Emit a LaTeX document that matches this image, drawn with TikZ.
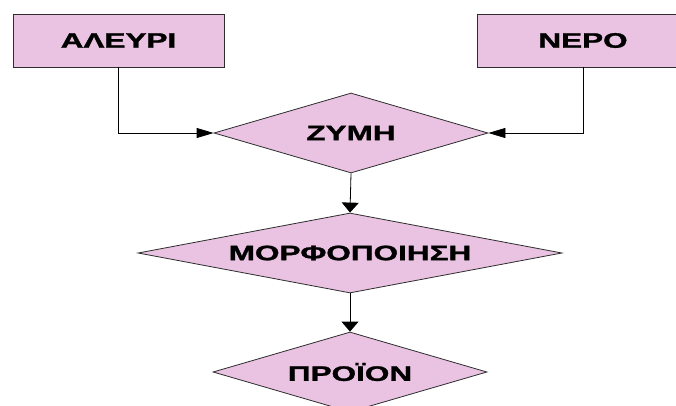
\documentclass[tikz,border=0pt]{standalone}
\usepackage{fontspec}
\setmainfont{Liberation Sans}[BoldFeatures={FakeBold=1.2}]
\usetikzlibrary{shapes.geometric,arrows.meta}
\definecolor{pinkfill}{RGB}{233,195,225}
\definecolor{edgecol}{RGB}{45,45,45}
\newcommand{\lbltext}[1]{\scalebox{1.5}[1]{\fontsize{21}{24}\selectfont\bfseries #1}}
\tikzset{
  inbox/.style={draw=edgecol, line width=0.8pt, fill=pinkfill, rectangle,
    minimum width=211pt, minimum height=53pt, inner sep=0pt},
  diam/.style={draw=edgecol, line width=0.8pt, fill=pinkfill, diamond,
    inner sep=0pt, minimum height=80pt},
  harrow/.style={draw=black, line width=0.8pt, -{Triangle[length=17pt,width=10pt]}},
  varrow/.style={draw=black, line width=0.8pt, -{Triangle[length=10pt,width=17pt]}},
}
\begin{document}
\begin{tikzpicture}[x=1pt,y=-1pt]
\useasboundingbox (0,0) rectangle (676,406);
\begin{scope}
\clip (0,0) rectangle (676,406);
\node[inbox] (aleyri) at (118.5,40.5) {\lbltext{ΑΛΕΥΡΙ}};
\node[inbox] (nero) at (583,40.5) {\lbltext{ΝΕΡΟ}};
\node[diam, minimum width=274pt, label=center:{\lbltext{ΖΥΜΗ}}] (zymi) at (351,133) {};
\node[diam, minimum width=424pt, label=center:{\lbltext{ΜΟΡΦΟΠΟΙΗΣΗ}}] (morfo) at (350,253) {};
\node[diam, minimum width=274pt, label=center:{\lbltext{ΠΡΟΪΟΝ}}] (proion) at (350,372) {};
\draw[harrow] (aleyri.south) |- (zymi.west);
\draw[harrow] (nero.south) |- (zymi.east);
\draw[varrow] (zymi.south) -- (morfo.north);
\draw[varrow] (morfo.south) -- (proion.north);
\end{scope}
\end{tikzpicture}
\end{document}
